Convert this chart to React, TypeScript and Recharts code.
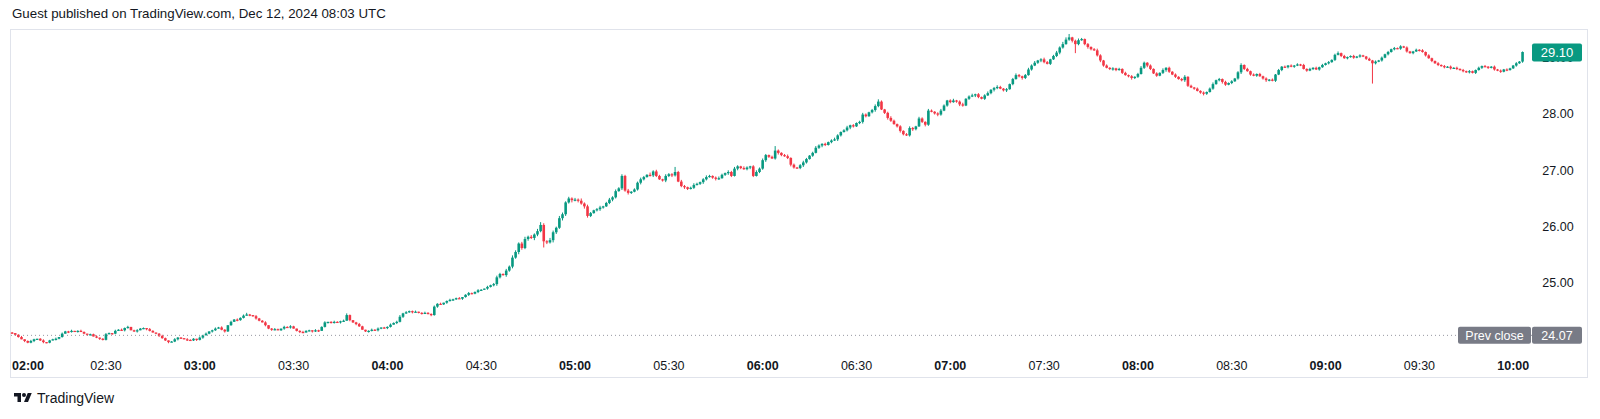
import { ComposedChart, Bar, XAxis, YAxis, ReferenceLine } from 'recharts'

const UP = '#089981'
const DOWN = '#F23645'
const TEXT = '#131722'
const FONT = '"Liberation Sans", Arial, sans-serif'

// 1-minute closes, one array per hour (02:00 ... 10:03)
const firstOpen = 24.12
const close02 = [
  24.11, 24.08, 24.04, 24.0, 23.97, 23.94, 23.97, 24.0, 24.01, 23.98,
  23.95, 23.94, 23.98, 24.0, 24.01, 24.04, 24.1, 24.14, 24.13, 24.15,
  24.14, 24.15, 24.13, 24.1, 24.08, 24.09, 24.05, 24.03, 24.01, 23.99,
  24.09, 24.11, 24.1, 24.15, 24.17, 24.16, 24.2, 24.22, 24.16, 24.14,
  24.16, 24.19, 24.2, 24.18, 24.15, 24.12, 24.1, 24.06, 24.02, 23.98,
  23.95, 23.96, 24.0, 24.03, 24.02, 24.0, 23.99, 23.98, 24.01, 23.99,
]
const close03 = [
  24.03, 24.07, 24.1, 24.14, 24.16, 24.19, 24.21, 24.17, 24.14, 24.25,
  24.31, 24.35, 24.34, 24.38, 24.42, 24.44, 24.43, 24.41, 24.37, 24.33,
  24.3, 24.25, 24.19, 24.17, 24.18, 24.16, 24.19, 24.22, 24.21, 24.23,
  24.19, 24.15, 24.13, 24.12, 24.15, 24.16, 24.14, 24.16, 24.15, 24.22,
  24.3, 24.31, 24.29, 24.31, 24.3, 24.32, 24.33, 24.43, 24.34, 24.3,
  24.27, 24.23, 24.17, 24.14, 24.15, 24.17, 24.16, 24.19, 24.21, 24.2,
]
const close04 = [
  24.22, 24.26, 24.29, 24.31, 24.4, 24.46, 24.48, 24.5, 24.48, 24.49,
  24.47, 24.46, 24.47, 24.45, 24.43, 24.58, 24.63, 24.62, 24.65, 24.68,
  24.7, 24.71, 24.73, 24.72, 24.75, 24.79, 24.82, 24.81, 24.84, 24.87,
  24.88, 24.9, 24.93, 24.96, 24.98, 25.1, 25.16, 25.14, 25.22, 25.29,
  25.45, 25.55, 25.7, 25.62, 25.78, 25.82, 25.8, 25.86, 25.92, 26.03,
  25.74, 25.72, 25.76, 25.9, 25.98, 26.15, 26.22, 26.43, 26.5, 26.47,
]
const close05 = [
  26.48, 26.46, 26.41, 26.36, 26.19, 26.24, 26.29, 26.31, 26.34, 26.36,
  26.42, 26.48, 26.52, 26.63, 26.68, 26.9, 26.64, 26.6, 26.62, 26.66,
  26.78, 26.84, 26.88, 26.92, 26.91, 26.98, 26.9, 26.84, 26.82, 26.9,
  26.93, 26.91, 26.97, 26.8, 26.72, 26.7, 26.67, 26.69, 26.74, 26.76,
  26.79, 26.84, 26.88, 26.9, 26.87, 26.85, 26.86, 26.92, 26.95, 26.97,
  26.9, 27.03, 27.07, 27.04, 27.02, 27.05, 27.07, 26.9, 26.97, 27.03,
]
const close06 = [
  27.18, 27.27, 27.24, 27.21, 27.35, 27.31, 27.27, 27.25, 27.22, 27.1,
  27.05, 27.04, 27.09, 27.14, 27.2, 27.26, 27.31, 27.4, 27.44, 27.47,
  27.45, 27.5, 27.53, 27.55, 27.62, 27.68, 27.71, 27.76, 27.8, 27.78,
  27.84, 27.86, 27.99, 27.96, 28.03, 28.07, 28.14, 28.22, 28.08, 28.02,
  27.93, 27.88, 27.82, 27.78, 27.7, 27.64, 27.62, 27.75, 27.73, 27.78,
  27.92, 27.86, 27.81, 28.06, 28.04, 28.01, 27.99, 28.06, 28.15, 28.24,
]
const close07 = [
  28.21, 28.24, 28.22, 28.17, 28.15, 28.27, 28.31, 28.33, 28.35, 28.3,
  28.27, 28.33, 28.37, 28.43, 28.46, 28.48, 28.45, 28.42, 28.44, 28.53,
  28.62, 28.69, 28.67, 28.64, 28.69, 28.79, 28.86, 28.91, 28.95, 28.97,
  28.92, 28.89, 28.97, 29.03, 29.09, 29.18, 29.24, 29.32, 29.36, 29.3,
  29.24, 29.31, 29.33, 29.24, 29.19, 29.15, 29.13, 29.04, 28.95, 28.86,
  28.82, 28.8, 28.81, 28.78, 28.8, 28.73, 28.69, 28.67, 28.64, 28.66,
]
const close08 = [
  28.71, 28.82, 28.91, 28.86, 28.8, 28.72, 28.68, 28.73, 28.78, 28.82,
  28.75, 28.7, 28.66, 28.62, 28.6, 28.66, 28.5, 28.47, 28.45, 28.41,
  28.38, 28.36, 28.39, 28.45, 28.53, 28.6, 28.62, 28.57, 28.52, 28.55,
  28.58, 28.63, 28.74, 28.87, 28.8, 28.76, 28.7, 28.68, 28.71, 28.67,
  28.63, 28.6, 28.61, 28.59, 28.7, 28.78, 28.84, 28.83, 28.86, 28.84,
  28.86, 28.88, 28.87, 28.8, 28.77, 28.8, 28.82, 28.79, 28.83, 28.87,
]
const close09 = [
  28.9, 28.92, 28.96, 29.05, 29.08, 29.03, 28.99, 29.01, 29.03, 29.0,
  29.02, 29.04, 29.02, 28.98, 28.95, 28.9, 28.93, 28.95, 29.0, 29.06,
  29.1, 29.15, 29.17, 29.16, 29.2, 29.18, 29.11, 29.08, 29.11, 29.14,
  29.13, 29.1, 29.04, 28.99, 28.94, 28.9, 28.87, 28.85, 28.83, 28.84,
  28.81, 28.82, 28.8, 28.78, 28.76, 28.74, 28.76, 28.73, 28.78, 28.82,
  28.85, 28.84, 28.82, 28.84, 28.79, 28.77, 28.75, 28.79, 28.78, 28.81,
]
const close10 = [28.86, 28.9, 28.93, 29.1]

// wick lengths in cents above / below the body
const wickUp = [
  1, 0, 1, 2, 0, 1, 2, 1, 0, 1, 2, 0, 1, 1, 2, 0, 2, 1, 1, 2, 0, 1, 2, 1, 0, 1, 1, 2, 0, 1,
  2, 1, 0, 2, 1, 2, 1, 2, 0, 1, 2, 1, 1, 0, 2, 1, 0, 1, 2, 1, 0, 1, 2, 1, 1, 0, 2, 1, 1, 0,
  2, 1, 2, 0, 1, 2, 1, 2, 1, 0, 2, 1, 2, 1, 2, 3, 1, 0, 2, 1, 1, 2, 0, 1, 2, 1, 0, 2, 1, 2,
  1, 0, 1, 2, 1, 1, 0, 2, 1, 1, 2, 0, 1, 2, 1, 1, 2, 3, 1, 0, 1, 2, 1, 0, 1, 2, 1, 2, 0, 1,
  1, 2, 1, 2, 3, 1, 2, 1, 1, 2, 0, 1, 2, 1, 1, 2, 1, 2, 0, 1, 2, 1, 1, 2, 0, 1, 2, 1, 1, 2,
  1, 0, 2, 1, 2, 3, 2, 1, 3, 2, 4, 3, 2, 3, 4, 2, 3, 2, 4, 5, 3, 2, 4, 3, 2, 4, 3, 2, 3, 2,
  3, 2, 4, 2, 3, 2, 1, 2, 3, 1, 2, 3, 2, 3, 2, 3, 2, 3, 1, 2, 2, 3, 2, 1, 4, 2, 3, 2, 1, 3,
  2, 2, 9, 2, 3, 2, 1, 2, 3, 2, 1, 2, 3, 2, 1, 2, 3, 2, 1, 3, 2, 3, 2, 1, 3, 2, 1, 2, 3, 2,
  3, 2, 1, 2, 8, 2, 1, 2, 3, 1, 2, 1, 2, 3, 2, 1, 2, 3, 2, 1, 2, 1, 2, 3, 2, 1, 2, 3, 1, 2,
  1, 2, 3, 2, 1, 2, 3, 4, 2, 1, 2, 3, 2, 1, 2, 1, 2, 3, 2, 1, 3, 2, 1, 3, 2, 1, 2, 3, 2, 1,
  2, 3, 1, 2, 3, 1, 2, 3, 1, 2, 1, 2, 3, 1, 2, 3, 2, 1, 2, 1, 2, 3, 2, 1, 2, 3, 2, 3, 1, 2,
  3, 2, 1, 2, 3, 2, 4, 4, 6, 1, 2, 3, 2, 1, 2, 1, 2, 3, 2, 1, 2, 1, 2, 1, 2, 1, 2, 1, 2, 1,
  2, 3, 2, 1, 2, 1, 2, 1, 3, 1, 2, 1, 2, 1, 2, 3, 1, 2, 1, 2, 1, 2, 1, 2, 3, 1, 2, 1, 2, 1,
  2, 1, 2, 3, 1, 2, 1, 2, 1, 2, 1, 2, 1, 2, 1, 2, 1, 2, 1, 2, 1, 2, 1, 2, 1, 2, 1, 2, 1, 2,
  1, 2, 1, 2, 3, 1, 2, 1, 1, 2, 1, 2, 1, 1, 2, 1, 2, 1, 2, 1, 2, 1, 2, 1, 2, 1, 2, 1, 1, 2,
  1, 2, 1, 2, 1, 1, 2, 1, 2, 1, 2, 1, 2, 1, 2, 1, 2, 1, 1, 2, 1, 2, 1, 1, 2, 1, 2, 1, 2, 1,
  1, 2, 1, 1,
]
const wickDown = [
  1, 2, 1, 0, 2, 1, 1, 2, 0, 1, 2, 1, 1, 0, 2, 1, 1, 0, 2, 1, 1, 2, 0, 1, 2, 1, 0, 1, 2, 1,
  1, 0, 2, 1, 0, 1, 2, 1, 0, 1, 2, 0, 1, 2, 1, 0, 1, 2, 1, 1, 2, 0, 1, 2, 1, 0, 2, 1, 1, 2,
  1, 2, 0, 1, 2, 1, 0, 1, 2, 1, 1, 0, 2, 1, 1, 0, 2, 1, 2, 1, 0, 2, 1, 2, 1, 0, 1, 2, 1, 2,
  0, 1, 2, 1, 0, 1, 2, 1, 2, 0, 1, 2, 1, 1, 0, 2, 1, 0, 2, 1, 2, 1, 0, 1, 2, 1, 0, 2, 1, 1,
  2, 1, 0, 2, 1, 2, 1, 1, 2, 0, 1, 2, 1, 1, 2, 1, 2, 0, 1, 2, 1, 2, 1, 0, 2, 1, 2, 1, 1, 2,
  1, 0, 2, 1, 2, 3, 2, 1, 3, 2, 3, 2, 4, 3, 2, 3, 2, 4, 3, 2, 11, 3, 2, 4, 3, 2, 4, 3, 2, 4,
  2, 3, 2, 4, 3, 2, 1, 2, 3, 2, 1, 2, 3, 2, 1, 3, 2, 3, 2, 1, 2, 3, 2, 1, 2, 3, 2, 1, 2, 3,
  2, 3, 2, 1, 2, 3, 2, 1, 2, 1, 2, 3, 2, 1, 2, 3, 2, 1, 2, 3, 2, 1, 3, 2, 1, 2, 3, 2, 1, 2,
  2, 3, 2, 1, 2, 3, 2, 1, 2, 3, 2, 1, 2, 3, 2, 1, 2, 1, 2, 3, 2, 1, 2, 1, 3, 2, 1, 2, 3, 2,
  1, 2, 3, 2, 1, 2, 3, 2, 1, 2, 3, 2, 1, 2, 3, 2, 1, 2, 3, 2, 1, 2, 3, 2, 1, 2, 3, 2, 1, 2,
  2, 1, 2, 3, 2, 1, 2, 1, 3, 2, 1, 2, 1, 2, 3, 2, 1, 2, 3, 1, 2, 1, 2, 3, 2, 1, 2, 1, 2, 3,
  2, 1, 2, 1, 2, 3, 2, 1, 2, 3, 16, 2, 1, 2, 3, 2, 1, 2, 3, 2, 1, 2, 3, 2, 1, 2, 1, 2, 3, 2,
  2, 1, 2, 3, 2, 1, 2, 1, 2, 3, 2, 1, 2, 1, 2, 3, 2, 1, 2, 1, 2, 3, 2, 1, 2, 1, 2, 3, 2, 1,
  2, 1, 2, 3, 2, 1, 2, 1, 2, 1, 2, 3, 2, 1, 2, 1, 2, 1, 2, 1, 2, 1, 2, 1, 2, 1, 2, 1, 2, 1,
  1, 2, 1, 2, 1, 2, 1, 2, 1, 2, 1, 2, 1, 2, 1, 36, 2, 1, 2, 1, 2, 1, 2, 1, 2, 1, 2, 1, 2, 1,
  2, 1, 2, 1, 2, 1, 2, 1, 2, 1, 2, 1, 2, 1, 2, 1, 2, 1, 2, 1, 2, 1, 2, 1, 2, 1, 2, 1, 2, 1,
  1, 2, 1, 2,
]

const timeTicks = [0, 30, 60, 90, 120, 150, 180, 210, 240, 270, 300, 330, 360, 390, 420, 450, 480]
const timeLabels = [
  '02:00', '02:30', '03:00', '03:30', '04:00', '04:30', '05:00', '05:30', '06:00',
  '06:30', '07:00', '07:30', '08:00', '08:30', '09:00', '09:30', '10:00',
]
const priceTicks = [25, 26, 27, 28, 29]
const prevClose = 24.07
const lastPrice = 29.1

const closes = [...close02, ...close03, ...close04, ...close05, ...close06, ...close07, ...close08, ...close09, ...close10]

const candles = closes.map((c, i) => {
  const o = i === 0 ? firstOpen : closes[i - 1]
  const h = Math.max(o, c) + wickUp[i] / 100
  const l = Math.min(o, c) - wickDown[i] / 100
  return { t: i, o, h, l, c, range: [l, h] }
})

function Candle(props: any) {
  const { x, y, width, height, payload } = props
  const { o, h, l, c } = payload
  const cx = x + width / 2
  const top = Math.min(y, y + height)
  const hh = Math.abs(height)
  const k = h - l > 0 ? hh / (h - l) : 0
  const bodyTop = top + (h - Math.max(o, c)) * k
  const bodyH = Math.max(Math.abs(o - c) * k, 1.2)
  const color = c >= o ? UP : DOWN
  return (
    <g>
      <line x1={cx} x2={cx} y1={top} y2={top + Math.max(hh, 1)} stroke={color} strokeWidth={1} />
      <rect x={cx - 1.3} y={bodyTop} width={2.6} height={bodyH} fill={color} />
    </g>
  )
}

function TimeTick(props: any) {
  const { x, payload } = props
  const idx = timeTicks.indexOf(payload.value)
  const label = timeLabels[idx]
  const first = idx === 0
  return (
    <text
      x={first ? 2 : x}
      y={340}
      textAnchor={first ? 'start' : 'middle'}
      fontSize={12.5}
      fontWeight={label.endsWith(':00') ? 700 : 400}
      fill={TEXT}
      fontFamily={FONT}
    >
      {label}
    </text>
  )
}

// price scale labels, drawn as reference-line labels so the last-price tag can sit on top
function PriceLabel(props: any) {
  const y = props.viewBox.y
  return (
    <text x={1548} y={y + 4.5} textAnchor="middle" fontSize={12.5} fill={TEXT} fontFamily={FONT}>
      {props.value}
    </text>
  )
}

function PrevCloseTag(props: any) {
  const y = props.viewBox.y
  return (
    <g fontFamily={FONT} fontSize={12.5}>
      <rect x={1448} y={y - 8.5} width={73} height={17} rx={2} fill="#787B86" />
      <text x={1484.5} y={y + 4.5} textAnchor="middle" fill="#fff">Prev close</text>
      <rect x={1522} y={y - 8.5} width={50} height={17} rx={2} fill="#787B86" />
      <text x={1547} y={y + 4.5} textAnchor="middle" fill="#fff">{prevClose.toFixed(2)}</text>
    </g>
  )
}

function LastTag(props: any) {
  const y = props.viewBox.y
  return (
    <g fontFamily={FONT} fontSize={13}>
      <rect x={1522} y={y - 8.5} width={50} height={18} rx={2} fill={UP} />
      <text x={1547} y={y + 5} textAnchor="middle" fill="#fff">{lastPrice.toFixed(2)}</text>
    </g>
  )
}

function TvLogo() {
  return (
    <svg width={22} height={14} viewBox="0 0 36 28" style={{ position: 'absolute', left: 12, top: 391 }}>
      <path d="M14 22H7V11H0V4h14v18z" fill={TEXT} />
      <circle cx={20} cy={8} r={4} fill={TEXT} />
      <path d="M28 22h-8l7.5-18h8L28 22z" fill={TEXT} />
    </svg>
  )
}

export default function App() {
  return (
    <div style={{ position: 'absolute', left: 0, top: 0, width: 1600, height: 419, background: '#fff', fontFamily: FONT }}>
      <div style={{ position: 'absolute', left: 12, top: 6, fontSize: 13.3, color: TEXT, whiteSpace: 'nowrap' }}>
        Guest published on TradingView.com, Dec 12, 2024 08:03 UTC
      </div>
      <div
        style={{
          position: 'absolute',
          left: 10,
          top: 29,
          width: 1578,
          height: 349,
          border: '1px solid #E0E3EB',
          boxSizing: 'border-box',
        }}
      />
      <div style={{ position: 'absolute', left: 10, top: 30 }}>
        <ComposedChart width={1578} height={348} data={candles} margin={{ top: 0, right: 0, bottom: 0, left: 0 }}>
          <XAxis
            dataKey="t"
            type="number"
            domain={[-0.7, 486]}
            ticks={timeTicks}
            interval={0}
            tick={<TimeTick />}
            axisLine={false}
            tickLine={false}
            height={28}
            allowDataOverflow
          />
          <YAxis
            orientation="right"
            type="number"
            domain={[23.81, 29.491]}
            ticks={priceTicks}
            tick={false}
            axisLine={false}
            tickLine={false}
            width={56}
            allowDataOverflow
          />
          <ReferenceLine y={prevClose} stroke="#9598A1" strokeDasharray="1 3" label={(p: any) => <PrevCloseTag {...p} />} />
          {priceTicks.map((v) => (
            <ReferenceLine
              key={v}
              y={v}
              stroke="none"
              strokeOpacity={0}
              label={(p: any) => <PriceLabel {...p} value={v.toFixed(2)} />}
            />
          ))}
          <Bar dataKey="range" barSize={3} shape={<Candle />} isAnimationActive={false} />
          <ReferenceLine y={lastPrice} stroke="none" strokeOpacity={0} label={(p: any) => <LastTag {...p} />} />
        </ComposedChart>
      </div>
      <TvLogo />
      <div style={{ position: 'absolute', left: 37, top: 390, fontSize: 14, color: TEXT }}>TradingView</div>
    </div>
  )
}
